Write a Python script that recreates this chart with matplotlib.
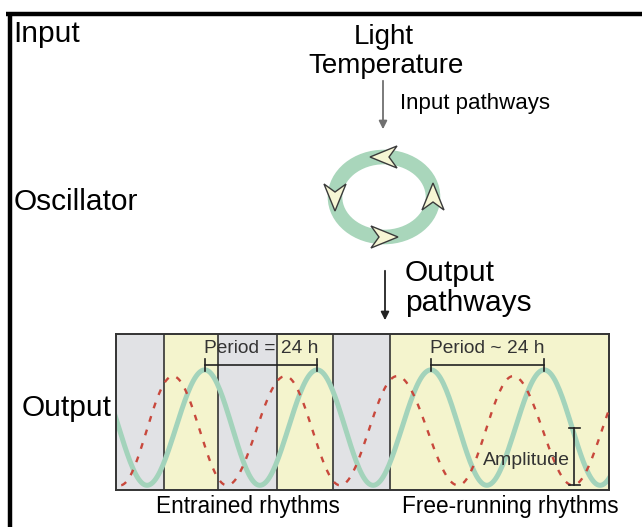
import numpy as np
import matplotlib
matplotlib.use("Agg")
from matplotlib import pyplot as plt
from matplotlib.patches import Ellipse, Polygon

plt.rcParams["font.family"] = ["Liberation Sans", "DejaVu Sans"]

# light/dark schedule of the output panel (hours from panel start)
band_edges = [0.0, 10.2, 21.7, 34.2, 46.2, 58.3, 104.9]
band_kind = ["dark", "light", "dark", "light", "dark", "light"]
# vertical separators drawn in the panel (hours)
separators = [10.2, 21.7, 34.2, 46.2, 58.3]

# extrema of the two rhythms: (hour, level)
clock_ext_t = [-5.4, 6.6, 18.9, 30.6, 42.8, 54.7, 67.0, 78.9, 91.1, 103.0, 115.0]
clock_ext_y = [0.77, 0.03, 0.77, 0.03, 0.77, 0.03, 0.77, 0.03, 0.77, 0.03, 0.77]
env_ext_t = [-11.0, 0.9, 12.1, 23.6, 36.0, 47.7, 59.8, 72.8, 84.5, 97.2, 109.5]
env_ext_y = [0.73, 0.03, 0.73, 0.03, 0.73, 0.03, 0.73, 0.03, 0.73, 0.03, 0.73]

period_marks = [(18.9, 42.8, "Period = 24 h"), (67.0, 91.1, "Period ~ 24 h")]


def smooth_through(ts, ys, n=40):
    # half-cosine segments joining consecutive extrema
    xs_out, ys_out = [], []
    for i in range(len(ts) - 1):
        s = np.linspace(0, 1, n, endpoint=False)
        xs_out.append(ts[i] + (ts[i + 1] - ts[i]) * s)
        ys_out.append(ys[i] + (ys[i + 1] - ys[i]) * (1 - np.cos(np.pi * s)) / 2)
    xs_out.append([ts[-1]])
    ys_out.append([ys[-1]])
    return np.concatenate(xs_out), np.concatenate(ys_out)


W, H = 642, 527
fig = plt.figure(figsize=(W / 100, H / 100), dpi=100)
fig.patch.set_facecolor("white")

# overlay in pixel coordinates
ov = fig.add_axes([0, 0, 1, 1])
ov.set_xlim(0, W)
ov.set_ylim(H, 0)
ov.axis("off")

# frame (top and left only)
ov.plot([6, W], [14, 14], color="black", lw=3.2, solid_capstyle="butt")
ov.plot([10, 10], [12, H], color="black", lw=3.2, solid_capstyle="butt")

big = 21.5
ov.text(13, 34, "Input", fontsize=big, va="center", ha="left")
ov.text(384, 37, "Light", fontsize=20, va="center", ha="center")
ov.text(386, 66, "Temperature", fontsize=20, va="center", ha="center")
ov.text(400, 103, "Input pathways", fontsize=16, va="center", ha="left")
ov.text(14, 202, "Oscillator", fontsize=big, va="center", ha="left")
ov.text(405, 273, "Output", fontsize=big, va="center", ha="left")
ov.text(405, 303, "pathways", fontsize=big, va="center", ha="left")
ov.text(22, 408, "Output", fontsize=big, va="center", ha="left")
ov.text(248, 506, "Entrained rhythms", fontsize=16.3, va="center", ha="center")
ov.text(510, 506, "Free-running rhythms", fontsize=16.3, va="center", ha="center")

# arrows
ov.annotate("", xy=(383, 132), xytext=(383, 78),
            arrowprops=dict(arrowstyle="-|>", color="#707070", lw=1.3, mutation_scale=12))
ov.annotate("", xy=(385, 323), xytext=(385, 268),
            arrowprops=dict(arrowstyle="-|>", color="#222222", lw=1.3, mutation_scale=12))

# oscillator ring
cx, cy, rx, ry = 384, 197, 49, 40
ov.add_patch(Ellipse((cx, cy), 2 * rx, 2 * ry, fill=False, ec="#a9d6bb", lw=10.5))

head = np.array([[14, 0], [-13, 11], [-5, 0], [-13, -11]])
for ang, direction in [(90, 180), (180, 270), (270, 0), (0, 90)]:
    a = np.deg2rad(ang)
    px, py = cx + rx * np.cos(a), cy - ry * np.sin(a)
    d = np.deg2rad(direction)
    rot = np.array([[np.cos(d), -np.sin(d)], [np.sin(d), np.cos(d)]])
    pts = head @ rot.T
    pts[:, 1] *= -1
    ov.add_patch(Polygon(pts + [px, py], closed=True, fc="#f6f6d4", ec="#3a3a3a", lw=1.0))

# output panel
x0, x1, y0, y1 = 116, 609, 334, 490
ax = fig.add_axes([x0 / W, 1 - y1 / H, (x1 - x0) / W, (y1 - y0) / H])
ax.set_xlim(band_edges[0], band_edges[-1])
ax.set_ylim(0, 1)
ax.set_xticks([])
ax.set_yticks([])
for sp in ax.spines.values():
    sp.set_color("#333333")
    sp.set_linewidth(1.4)

colors = {"dark": "#e1e2e5", "light": "#f4f4cd"}
for i, kind in enumerate(band_kind):
    ax.axvspan(band_edges[i], band_edges[i + 1], color=colors[kind], lw=0, zorder=0)
for s in separators:
    ax.axvline(s, color="#333333", lw=1.2, zorder=1)

tx, ty = smooth_through(clock_ext_t, clock_ext_y)
ax.plot(tx, ty, color="#a3d3bb", lw=3.6, zorder=2, solid_capstyle="round")
ex, ey = smooth_through(env_ext_t, env_ext_y)
ax.plot(ex, ey, color="#c8483c", lw=1.7, ls=(0, (2.5, 3.5)), zorder=3)

for a_t, b_t, label in period_marks:
    ax.plot([a_t, b_t], [0.8, 0.8], color="#222222", lw=1.2, zorder=4)
    ax.plot([a_t, a_t], [0.76, 0.84], color="#222222", lw=1.2, zorder=4)
    ax.plot([b_t, b_t], [0.76, 0.84], color="#222222", lw=1.2, zorder=4)
    ax.text((a_t + b_t) / 2, 0.91, label, fontsize=13.8, ha="center", va="center",
            color="#333333", zorder=5)

amp_t = 97.5
ax.plot([amp_t, amp_t], [0.03, 0.40], color="#222222", lw=1.2, zorder=4)
ax.plot([amp_t - 1.2, amp_t + 1.2], [0.40, 0.40], color="#222222", lw=1.2, zorder=4)
ax.plot([amp_t - 1.2, amp_t + 1.2], [0.03, 0.03], color="#222222", lw=1.2, zorder=4)
ax.text(87.3, 0.19, "Amplitude", fontsize=14, ha="center", va="center",
        color="#333333", zorder=5)

fig.savefig("out.png", dpi=100)
